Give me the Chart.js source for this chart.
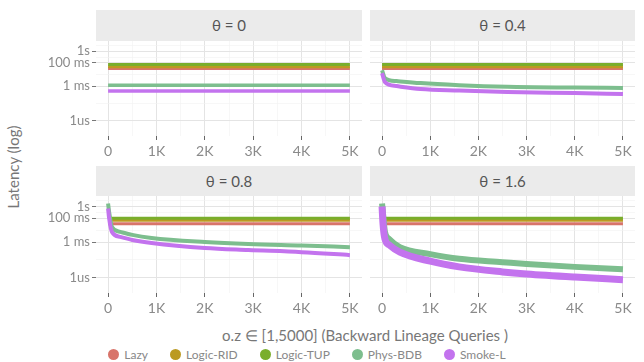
<!DOCTYPE html>
<html>
<head>
<meta charset="utf-8">
<script src="https://cdn.jsdelivr.net/npm/chart.js@4/dist/chart.umd.min.js"></script>
<style>
  body { margin: 0; width: 644px; height: 362px; background: #fff; position: relative; overflow: hidden; font-family: Lato, "Open Sans", sans-serif; }
  .strip { position: absolute; background: #ebebeb; color: #555; font-size: 15px; text-align: center; line-height: 30px; }
  canvas { position: absolute; }
  .ytitle { position: absolute; left: 13px; top: 167px; transform: translate(-50%, -50%) rotate(-90deg); color: #777; font-size: 15px; white-space: nowrap; }
  .xtitle { position: absolute; left: 365px; top: 335px; transform: translate(-50%, -50%); color: #777; font-size: 15px; white-space: nowrap; }
  #legend { position: absolute; left: -15px; width: 644px; top: 347px; display: flex; justify-content: center; font-size: 12px; color: #888; }
  #legend span.item { display: flex; align-items: center; margin: 0 11px; }
  #legend span.dot { width: 11px; height: 11px; border-radius: 50%; margin-right: 5px; display: inline-block; }
</style>
</head>
<body>
<div class="strip" style="left:96px;top:10px;width:266px;height:31px" id="s0"></div>
<div class="strip" style="left:370px;top:10px;width:265px;height:31px" id="s1"></div>
<div class="strip" style="left:96px;top:166px;width:266px;height:30px" id="s2"></div>
<div class="strip" style="left:370px;top:166px;width:265px;height:30px" id="s3"></div>

<canvas id="p0" width="332" height="119" style="left:30px;top:41px"></canvas>
<canvas id="p1" width="265" height="119" style="left:370px;top:41px"></canvas>
<canvas id="p2" width="332" height="121" style="left:30px;top:196px"></canvas>
<canvas id="p3" width="265" height="121" style="left:370px;top:196px"></canvas>

<div class="ytitle">Latency (log)</div>
<div class="xtitle">o.z ∈ [1,5000] (Backward Lineage Queries )</div>
<div id="legend"></div>

<script>
var categories = ["Lazy", "Logic-RID", "Logic-TUP", "Phys-BDB", "Smoke-L"];
var colors = ["#D8746A", "#BB9A22", "#7AAE2C", "#7DBE8E", "#C373EE"];
var thetas = ["θ = 0", "θ = 0.4", "θ = 0.8", "θ = 1.6"];

var xTickValues = [0, 500, 1000, 1500, 2000, 2500, 3000, 3500, 4000, 4500, 5000];
var xTickLabels = ["0", "", "1K", "", "2K", "", "3K", "", "4K", "", "5K"];
var yTickValues = [1e-6, 3.16e-5, 1e-3, 1e-2, 1e-1, 0.316, 1, 3.16];
var yTickLabels = ["1us", "", "1 ms", "", "100 ms", "", "1s", ""];

// flat series (Lazy, Logic-RID, Logic-TUP)
var flatX = [0, 5000];
var lazyTop = [0.033, 0.033];
var ridTop = [0.047, 0.047];
var tupTop = [0.072, 0.072];
var lazyBot = [0.035, 0.035];
var ridBot = [0.07, 0.07];
var tupBot = [0.10, 0.10];

// theta = 0
var x00 = [0, 5000];
var bdb00 = [1.2e-3, 1.2e-3];
var smoke00 = [3.7e-4, 3.7e-4];

// theta = 0.4
var x04 = [0, 60, 300, 800, 1600, 2600, 4000, 5000];
var bdb04 = [0.023, 4.9e-3, 2.7e-3, 1.8e-3, 1.2e-3, 8.7e-4, 7.4e-4, 6.8e-4];
var smoke04 = [0.013, 2.2e-3, 1e-3, 5.5e-4, 4.1e-4, 3.1e-4, 2.5e-4, 2.1e-4];

// theta = 0.8
var x08 = [0, 20, 80, 250, 500, 900, 2000, 2900, 4000, 5000];
var bdb08 = [1.8, 0.37, 0.019, 7.2e-3, 4e-3, 2.2e-3, 1e-3, 6.7e-4, 5e-4, 3.7e-4];
var smoke08 = [0.67, 0.11, 7e-3, 2.7e-3, 1.5e-3, 8.3e-4, 3.1e-4, 2.1e-4, 1.4e-4, 7.8e-5];

// theta = 1.6
var x16 = [0, 20, 60, 150, 370, 1000, 1600, 2500, 3000, 4000, 5000];
var bdb16 = [1.8, 0.25, 7.2e-3, 1.8e-3, 3.7e-4, 9.5e-5, 3.8e-5, 2e-5, 1.4e-5, 8e-6, 5e-6];
var smoke16 = [1, 0.035, 1.8e-3, 5.6e-4, 1.4e-4, 2.4e-5, 8e-6, 3e-6, 2e-6, 1.1e-6, 6.7e-7];

function pts(xs, ys) {
  return xs.map(function (x, i) { return { x: x, y: ys[i] }; });
}

function series(i, xs, ys, width) {
  return {
    label: categories[i],
    data: pts(xs, ys),
    borderColor: colors[i],
    backgroundColor: colors[i],
    borderWidth: width,
    pointRadius: 0,
    cubicInterpolationMode: "monotone",
    order: 5 - i
  };
}

function isMajorX(v) { return v % 1000 === 0; }
function isMajorY(v) { return [1e-6, 1e-3, 1e-1, 1].indexOf(v) >= 0; }

// drop the label overhang padding so every panel gets the same plot box
function noPad(s) {
  s.paddingTop = 0; s.paddingBottom = 0; s.paddingLeft = 0; s.paddingRight = 0;
}

function panel(id, datasets, showY) {
  new Chart(document.getElementById(id), {
    type: "line",
    data: { datasets: datasets },
    options: {
      responsive: false,
      animation: false,
      devicePixelRatio: 1,
      layout: { padding: 0, autoPadding: false },
      plugins: { legend: { display: false }, tooltip: { enabled: false } },
      scales: {
        x: {
          type: "linear",
          min: -250,
          max: 5250,
          afterBuildTicks: function (s) { s.ticks = xTickValues.map(function (v) { return { value: v }; }); },
          afterFit: function (s) { s.height = 24; noPad(s); },
          ticks: {
            autoSkip: false, maxRotation: 0, padding: 3, color: "#8a8a8a",
            font: { family: "Lato", size: 14 },
            callback: function (v, i) { return xTickLabels[i]; }
          },
          grid: {
            color: function (c) { return isMajorX(c.tick.value) ? "#e4e4e4" : "#f1f1f1"; },
            lineWidth: function (c) { return isMajorX(c.tick.value) ? 1 : 0.6; },
            tickColor: function (c) { return isMajorX(c.tick.value) ? "#666" : "rgba(0,0,0,0)"; },
            tickLength: 4
          },
          border: { display: false }
        },
        y: {
          type: "logarithmic",
          min: Math.pow(10, -7.3),
          max: Math.pow(10, 0.88),
          afterBuildTicks: function (s) { s.ticks = yTickValues.map(function (v) { return { value: v }; }); },
          afterFit: function (s) { s.width = showY ? 66 : 0; noPad(s); },
          ticks: {
            display: showY, autoSkip: false, padding: 2, color: "#8a8a8a",
            font: { family: "Lato", size: 13 },
            callback: function (v, i) { return yTickLabels[i]; }
          },
          grid: {
            drawTicks: showY,
            color: function (c) { return isMajorY(c.tick.value) ? "#e4e4e4" : "#f1f1f1"; },
            lineWidth: function (c) { return isMajorY(c.tick.value) ? 1 : 0.6; },
            tickColor: function (c) { return isMajorY(c.tick.value) ? "#777" : "rgba(0,0,0,0)"; },
            tickLength: 4
          },
          border: { display: false }
        }
      }
    }
  });
}

panel("p0", [
  series(0, flatX, lazyTop, 3), series(1, flatX, ridTop, 3), series(2, flatX, tupTop, 3),
  series(3, x00, bdb00, 3.5), series(4, x00, smoke00, 3.5)
], true);
panel("p1", [
  series(0, flatX, lazyTop, 3), series(1, flatX, ridTop, 3), series(2, flatX, tupTop, 3),
  series(3, x04, bdb04, 4), series(4, x04, smoke04, 4)
], false);
panel("p2", [
  series(0, flatX, lazyBot, 3), series(1, flatX, ridBot, 3), series(2, flatX, tupBot, 3),
  series(3, x08, bdb08, 4), series(4, x08, smoke08, 4)
], true);
panel("p3", [
  series(0, flatX, lazyBot, 3), series(1, flatX, ridBot, 3), series(2, flatX, tupBot, 3),
  series(3, x16, bdb16, 6), series(4, x16, smoke16, 7)
], false);

thetas.forEach(function (t, i) { document.getElementById("s" + i).textContent = t; });

var legend = document.getElementById("legend");
categories.forEach(function (name, i) {
  var item = document.createElement("span");
  item.className = "item";
  item.innerHTML = '<span class="dot" style="background:' + colors[i] + '"></span>' + name;
  legend.appendChild(item);
});
</script>
</body>
</html>
